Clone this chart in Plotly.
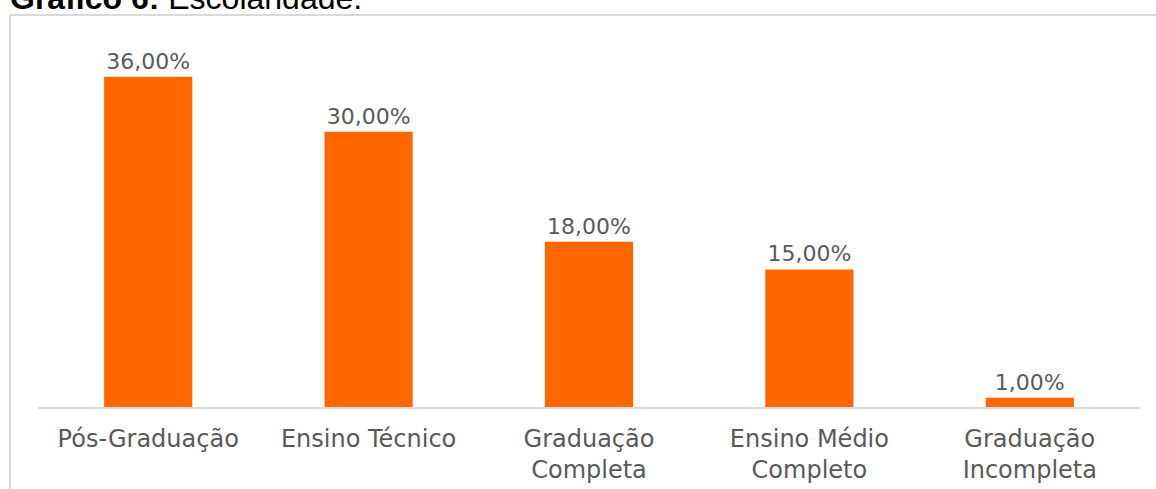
import plotly.graph_objects as go

categories = ["Pós-Graduação", "Ensino Técnico", "Graduação<br>Completa", "Ensino Médio<br>Completo", "Graduação<br>Incompleta"]
values = [36.0, 30.0, 18.0, 15.0, 1.0]
labels = ["36,00%", "30,00%", "18,00%", "15,00%", "1,00%"]

FONT = "DejaVu Sans"
GRAY = "#595959"

fig = go.Figure(go.Bar(
    x=categories, y=values, text=labels, textposition="outside",
    textfont=dict(family=FONT, size=22, color=GRAY),
    marker=dict(color="#FF6600", line=dict(width=0)),
    width=0.4, cliponaxis=False,
))

W, H = 1156, 489
L, R, T, B = 38, 16, 40, 82
PW, PH = W - L - R, H - T - B

fig.update_layout(
    width=W, height=H,
    margin=dict(l=L, r=R, t=T, b=B, pad=0, autoexpand=False),
    paper_bgcolor="white", plot_bgcolor="white",
    showlegend=False,
    xaxis=dict(showgrid=False, showline=True, linecolor="#D9D9D9", linewidth=2,
               ticks="", ticklabelstandoff=9, automargin=False,
               tickfont=dict(family=FONT, size=24, color=GRAY)),
    yaxis=dict(range=[0, 40], visible=False, automargin=False),
    shapes=[
        dict(type="line", xref="paper", yref="paper",
             x0=(10 - L) / PW, x1=(1160 - L) / PW,
             y0=1 + (T - 15) / PH, y1=1 + (T - 15) / PH,
             line=dict(color="#D9D9D9", width=2)),
        dict(type="line", xref="paper", yref="paper",
             x0=(10 - L) / PW, x1=(10 - L) / PW,
             y0=1 + (T - 15) / PH, y1=-(B + 10) / PH,
             line=dict(color="#D9D9D9", width=2)),
    ],
    annotations=[
        dict(text="<b>Gráfico 6:</b> Escolaridade.", xref="paper", yref="paper",
             x=(8 - L) / PW, y=1 + (T - 18) / PH,
             xanchor="left", yanchor="bottom", showarrow=False,
             font=dict(family="Liberation Sans", size=32, color="black")),
    ],
)

fig.write_html("out.html", config={"displayModeBar": False},
               post_script="document.body.style.margin='0';")
